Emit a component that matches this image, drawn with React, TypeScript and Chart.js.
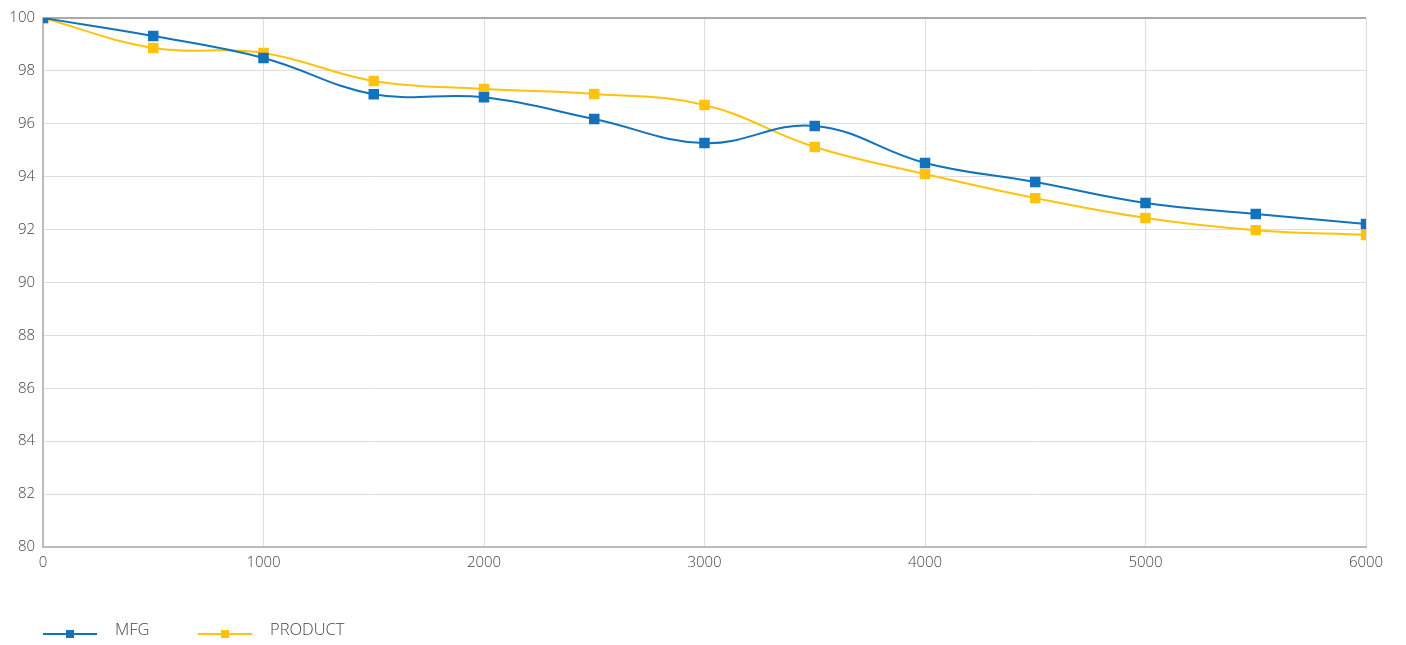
import React, { useEffect, useRef } from "react";
import { Chart, registerables } from "chart.js";

Chart.register(...registerables);

const xValues = [0, 500, 1000, 1500, 2000, 2500, 3000, 3500, 4000, 4500, 5000, 5500, 6000];
const mfg = [100, 99.32, 98.49, 97.12, 97.0, 96.18, 95.27, 95.92, 94.52, 93.8, 93.01, 92.59, 92.21];
const product = [100, 98.87, 98.68, 97.62, 97.32, 97.13, 96.71, 95.12, 94.1, 93.19, 92.44, 91.98, 91.8];
const seriesNames = ["MFG", "PRODUCT"];
const blue = "#1272BC";
const yellow = "#FFC20E";

export default function App() {
  const ref = useRef<HTMLCanvasElement>(null);
  useEffect(() => {
    const ctx = ref.current!;
    const chart = new Chart(ctx, {
      type: "line",
      data: {
        datasets: [
          {
            label: seriesNames[0],
            data: xValues.map((x, i) => ({ x, y: mfg[i] })),
            borderColor: blue,
            backgroundColor: blue,
            borderWidth: 2,
            pointStyle: "rect",
            pointRadius: 6,
            tension: 0.4,
          },
          {
            label: seriesNames[1],
            data: xValues.map((x, i) => ({ x, y: product[i] })),
            borderColor: yellow,
            backgroundColor: yellow,
            borderWidth: 2,
            pointStyle: "rect",
            pointRadius: 6,
            tension: 0.4,
          },
        ],
      },
      options: {
        animation: false,
        responsive: false,
        devicePixelRatio: 1,
        layout: { padding: { left: 0, right: 40, top: 18, bottom: 0 } },
        plugins: { legend: { display: false }, tooltip: { enabled: false } },
        scales: {
          x: {
            type: "linear",
            min: 0,
            max: 6000,
            ticks: {
              stepSize: 1000,
              color: "#444",
              font: { family: "Open Sans", size: 15, weight: 300 },
              padding: 7,
              callback: (v: any) => String(v),
            },
            grid: { color: "#dddddd", drawTicks: false, lineWidth: 1 },
            border: { color: "#bbbbbb", width: 2 },
            afterFit: (s: any) => {
              s.height = 645 - 547;
            },
          },
          y: {
            min: 80,
            max: 100,
            ticks: {
              stepSize: 2,
              color: "#444",
              font: { family: "Open Sans", size: 15, weight: 300 },
              padding: 8,
              callback: (v: any) => String(v),
            },
            grid: {
              color: (c: any) => (c.tick && c.tick.value === 100 ? "#aaaaaa" : "#dddddd"),
              lineWidth: (c: any) => (c.tick && c.tick.value === 100 ? 2 : 1),
              drawTicks: false,
            },
            border: { color: "#bbbbbb", width: 2 },
            afterFit: (s: any) => {
              s.width = 43;
            },
          },
        },
      },
    });
    return () => chart.destroy();
  }, []);

  const legendItem = (name: string, color: string, left: number) => (
    <div style={{ position: "absolute", left, top: 616, height: 24, display: "flex", alignItems: "center" }}>
      <div style={{ position: "relative", width: 54, height: 24 }}>
        <div style={{ position: "absolute", left: 0, top: 17, width: 54, height: 2, background: color }} />
        <div style={{ position: "absolute", left: 23, top: 14, width: 8, height: 8, background: color }} />
      </div>
      <span style={{ marginLeft: 18, fontFamily: "Open Sans", fontWeight: 300, fontSize: 16.5, color: "#444" }}>{name}</span>
    </div>
  );

  return (
    <div style={{ position: "fixed", left: 0, top: 0, width: 1406, height: 645, background: "#fff" }}>
      <canvas ref={ref} width={1406} height={645} style={{ display: "block", width: 1406, height: 645 }} />
      {legendItem(seriesNames[0], blue, 43)}
      {legendItem(seriesNames[1], yellow, 198)}
    </div>
  );
}
